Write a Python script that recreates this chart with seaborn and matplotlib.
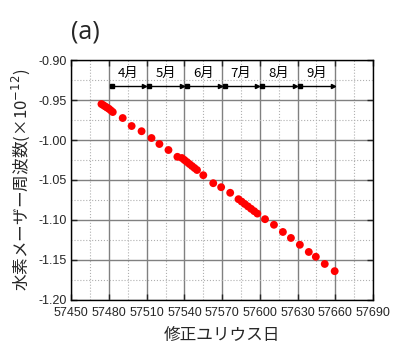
import numpy as np
import pandas as pd
import matplotlib
matplotlib.use("Agg")
import matplotlib.pyplot as plt
import seaborn as sns
from matplotlib.ticker import MultipleLocator

# modified Julian date and maser frequency offset (x1e-12)
mjd = [57474, 57475.5, 57477, 57478.5, 57480, 57481.5, 57483,
       57490.9, 57498, 57505.9, 57513.8, 57520.1, 57527.3, 57534.4,
       57538, 57540, 57542, 57544, 57546, 57548, 57550,
       57555, 57562.9, 57569.2, 57576.4,
       57583, 57585.5, 57588, 57590.5, 57593, 57595.5, 57598,
       57604.1, 57611.2, 57618.3, 57624.7, 57631.8, 57638.9, 57644.5,
       57651.6, 57659.5]
freq = [-0.955, -0.9565, -0.958, -0.9595, -0.961, -0.963, -0.965,
        -0.9725, -0.9825, -0.989, -0.9975, -1.005, -1.0125, -1.021,
        -1.0225, -1.025, -1.0275, -1.030, -1.0325, -1.035, -1.0375,
        -1.044, -1.054, -1.059, -1.066,
        -1.074, -1.077, -1.080, -1.083, -1.086, -1.089, -1.092,
        -1.099, -1.106, -1.115, -1.1225, -1.131, -1.14, -1.146,
        -1.155, -1.164]

months = ["4月", "5月", "6月", "7月", "8月", "9月"]
month_start = [57480, 57510, 57540, 57570, 57600, 57630]
month_len = 30

df = pd.DataFrame({"mjd": mjd, "freq": freq})

sns.set_style("ticks")
plt.rcParams["font.family"] = ["Noto Sans CJK JP", "DejaVu Sans"]

fig = plt.figure(figsize=(3.96, 3.64), dpi=100)
ax = fig.add_axes([0.180, 0.176, 0.762, 0.659])

sns.scatterplot(data=df, x="mjd", y="freq", ax=ax, color="red",
                s=32, edgecolor="none", zorder=3)

ax.set_xlim(57450, 57690)
ax.set_ylim(-1.20, -0.90)
ax.xaxis.set_major_locator(MultipleLocator(30))
ax.xaxis.set_minor_locator(MultipleLocator(15))
ax.yaxis.set_major_locator(MultipleLocator(0.05))
ax.yaxis.set_minor_locator(MultipleLocator(0.025))
ax.yaxis.set_major_formatter(matplotlib.ticker.FormatStrFormatter("%.2f"))

ax.grid(which="major", color="#808080", lw=1.0, ls="-", zorder=0)
ax.grid(which="minor", color="#b0b0b0", lw=0.8, ls=":", zorder=0)
ax.tick_params(which="major", direction="in", length=4, width=1,
               top=True, right=True, labelsize=9)
ax.tick_params(axis="x", pad=5)
ax.tick_params(axis="y", pad=3)
ax.tick_params(which="minor", length=0)
for lab in ax.get_xticklabels() + ax.get_yticklabels():
    lab.set_fontfamily("Liberation Sans")
for sp in ax.spines.values():
    sp.set_color("black")
    sp.set_linewidth(1.0)

# month spans
for name, start in zip(months, month_start):
    x0, x1 = start + 2, start + month_len - 2
    ax.plot([x0, x1], [-0.933, -0.933], color="black", lw=1.0, zorder=4)
    ax.plot([x0], [-0.933], marker="s", ms=2.5, color="black", zorder=4)
    ax.plot([x1], [-0.933], marker=">", ms=3, color="black", zorder=4)
    ax.text(start + month_len / 2, -0.9165, name, ha="center", va="center",
            fontsize=9.5, color="black")

ax.set_xlabel("修正ユリウス日", fontsize=12, labelpad=6)
ax.set_ylabel("水素メーザー周波数(×10$^{-12}$)", fontsize=12, labelpad=5)
fig.text(0.215, 0.912, "(a)", fontsize=18, ha="center", va="center",
         family=["Open Sans", "DejaVu Sans"])

fig.savefig("out.png", dpi=100)
